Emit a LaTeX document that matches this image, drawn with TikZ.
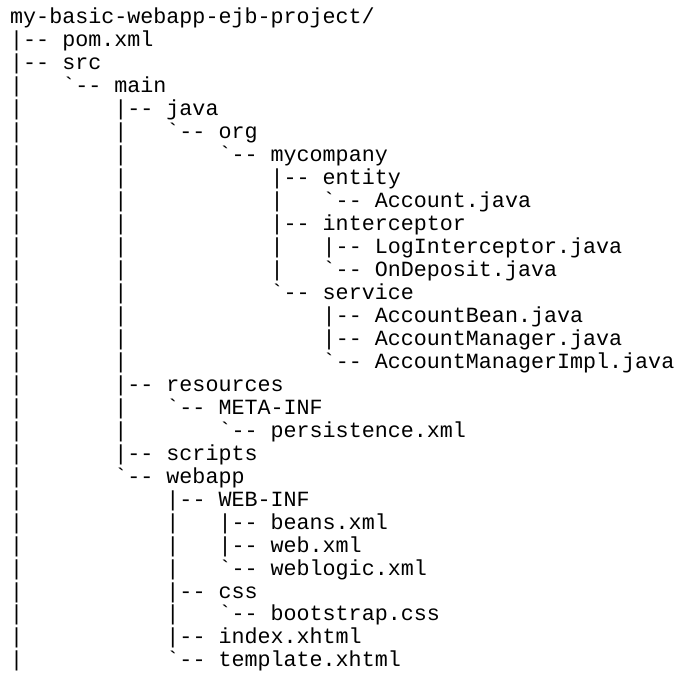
\documentclass[tikz,border=0pt]{standalone}
\usepackage{fontspec}
\setmonofont{Liberation Mono}
\newcommand{\bt}{\char96}
\begin{document}
\begin{tikzpicture}[x=1pt,y=1pt,
  line/.style={anchor=base west,inner sep=0pt,font=\ttfamily\fontsize{21.7}{23}\selectfont}]
\useasboundingbox (0,0) rectangle (684,-679);
\def\L#1#2#3{\node[line] (#1) at (10,{-24-22.96*#2}) {#3};}
\L{r0}{0}{my-basic-webapp-ejb-project/}
\L{r1}{1}{|--~pom.xml}
\L{r2}{2}{|--~src}
\L{r3}{3}{|~~~\bt--~main}
\L{r4}{4}{|~~~~~~~|--~java}
\L{r5}{5}{|~~~~~~~|~~~\bt--~org}
\L{r6}{6}{|~~~~~~~|~~~~~~~\bt--~mycompany}
\L{r7}{7}{|~~~~~~~|~~~~~~~~~~~|--~entity}
\L{r8}{8}{|~~~~~~~|~~~~~~~~~~~|~~~\bt--~Account.java}
\L{r9}{9}{|~~~~~~~|~~~~~~~~~~~|--~interceptor}
\L{r10}{10}{|~~~~~~~|~~~~~~~~~~~|~~~|--~LogInterceptor.java}
\L{r11}{11}{|~~~~~~~|~~~~~~~~~~~|~~~\bt--~OnDeposit.java}
\L{r12}{12}{|~~~~~~~|~~~~~~~~~~~\bt--~service}
\L{r13}{13}{|~~~~~~~|~~~~~~~~~~~~~~~|--~AccountBean.java}
\L{r14}{14}{|~~~~~~~|~~~~~~~~~~~~~~~|--~AccountManager.java}
\L{r15}{15}{|~~~~~~~|~~~~~~~~~~~~~~~\bt--~AccountManagerImpl.java}
\L{r16}{16}{|~~~~~~~|--~resources}
\L{r17}{17}{|~~~~~~~|~~~\bt--~META-INF}
\L{r18}{18}{|~~~~~~~|~~~~~~~\bt--~persistence.xml}
\L{r19}{19}{|~~~~~~~|--~scripts}
\L{r20}{20}{|~~~~~~~\bt--~webapp}
\L{r21}{21}{|~~~~~~~~~~~|--~WEB-INF}
\L{r22}{22}{|~~~~~~~~~~~|~~~|--~beans.xml}
\L{r23}{23}{|~~~~~~~~~~~|~~~|--~web.xml}
\L{r24}{24}{|~~~~~~~~~~~|~~~\bt--~weblogic.xml}
\L{r25}{25}{|~~~~~~~~~~~|--~css}
\L{r26}{26}{|~~~~~~~~~~~|~~~\bt--~bootstrap.css}
\L{r27}{27}{|~~~~~~~~~~~|--~index.xhtml}
\L{r28}{28}{|~~~~~~~~~~~\bt--~template.xhtml}
\end{tikzpicture}
\end{document}
